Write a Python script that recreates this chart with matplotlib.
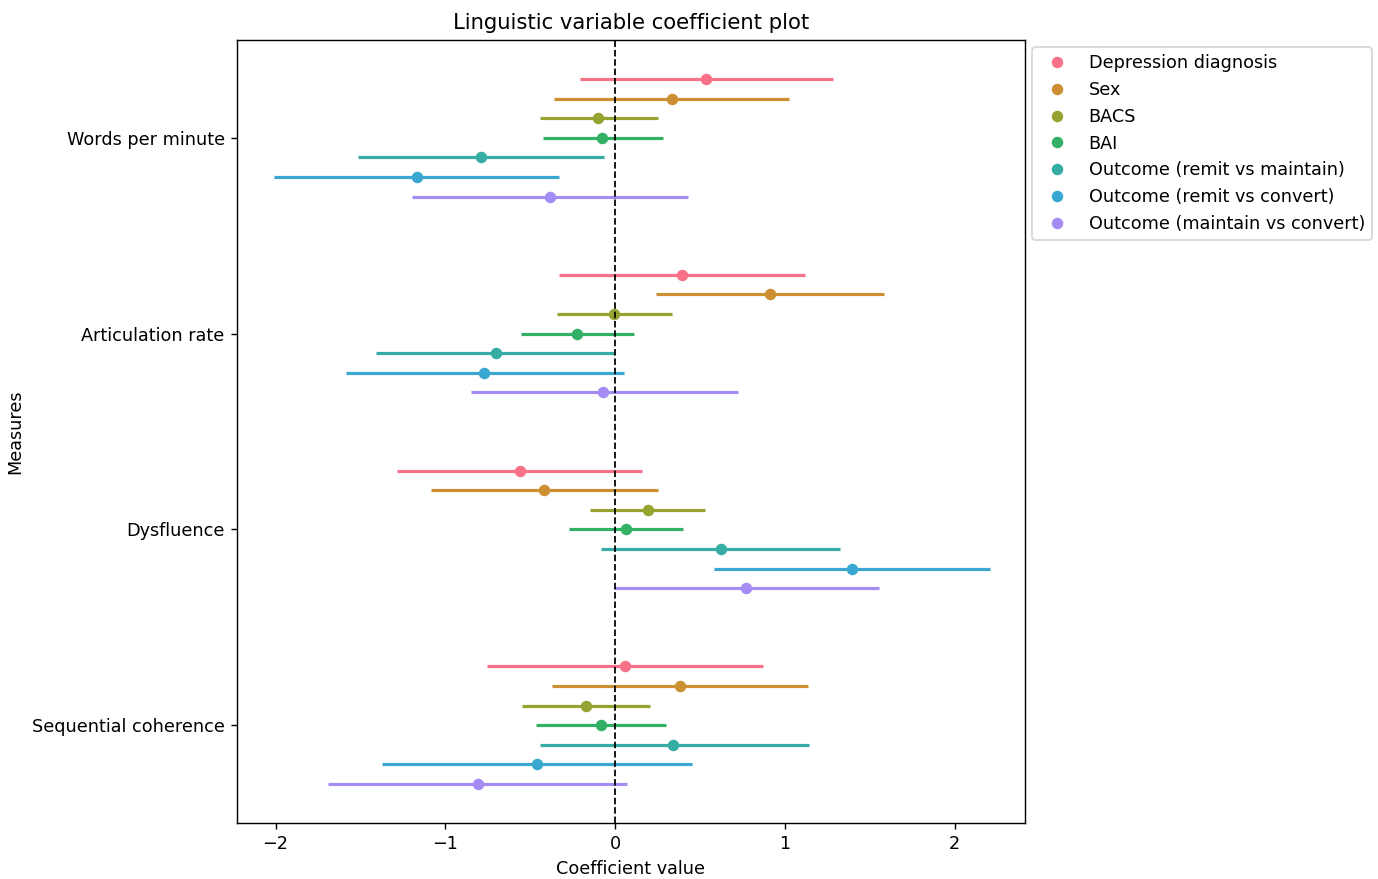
import numpy as np
import matplotlib
matplotlib.use("Agg")
import matplotlib.pyplot as plt
from matplotlib.lines import Line2D

measures = ["Words per minute", "Articulation rate", "Dysfluence", "Sequential coherence"]
predictors = ["Depression diagnosis", "Sex", "BACS", "BAI",
              "Outcome (remit vs maintain)", "Outcome (remit vs convert)",
              "Outcome (maintain vs convert)"]

# coefficient estimates, rows = measures, cols = predictors
coef = np.array([
    [0.538, 0.336, -0.099, -0.075, -0.787, -1.168, -0.381],
    [0.396, 0.913, -0.009, -0.225, -0.703, -0.772, -0.069],
    [-0.562, -0.420, 0.192, 0.066, 0.622, 1.393, 0.769],
    [0.060, 0.381, -0.171, -0.084, 0.342, -0.462, -0.808],
])
ci_low = np.array([
    [-0.207, -0.357, -0.444, -0.423, -1.517, -2.009, -1.195],
    [-0.333, 0.240, -0.342, -0.556, -1.411, -1.583, -0.850],
    [-1.282, -1.084, -0.147, -0.273, -0.081, 0.580, -0.009],
    [-0.754, -0.372, -0.550, -0.468, -0.444, -1.372, -1.691],
])
ci_high = np.array([
    [1.282, 1.024, 0.252, 0.282, -0.063, -0.333, 0.432],
    [1.120, 1.586, 0.336, 0.114, 0.000, 0.051, 0.727],
    [0.156, 0.252, 0.529, 0.402, 1.324, 2.207, 1.553],
    [0.874, 1.135, 0.204, 0.300, 1.144, 0.453, 0.072],
])

colors = ['#f77189', '#cc8f32', '#96a331', '#32b166', '#36ada4', '#39a7d0', '#a48cf4']

DPI = 127
fig = plt.figure(figsize=(1378 / DPI, 879 / DPI), dpi=DPI)
ax = fig.add_axes([237 / 1378, 1 - 823 / 879, (1025 - 237) / 1378, (823 - 40) / 879])

ypos = np.arange(len(measures))
offsets = np.linspace(-0.3, 0.3, len(predictors))
handles = []
for j, name in enumerate(predictors):
    y = ypos + offsets[j]
    ax.hlines(y, ci_low[:, j], ci_high[:, j], color=colors[j], lw=1.8)
    ax.plot(coef[:, j], y, 'o', color=colors[j], markersize=5.5)
    handles.append(Line2D([], [], marker='o', ls='none', color=colors[j],
                          markersize=5.5, label=name))

ax.axvline(0, color='black', ls='--', lw=1.0, zorder=3)

ax.set_yticks(ypos)
ax.set_yticklabels(measures)
ax.set_ylim(3.5, -0.5)
ax.set_xlim(-2.227, 2.415)
ax.set_xticks([-2, -1, 0, 1, 2])
ax.set_xlabel("Coefficient value")
ax.set_ylabel("Measures")
ax.set_title("Linguistic variable coefficient plot")
ax.legend(handles=handles, loc='upper left', bbox_to_anchor=(1.0, 1.0),
          borderaxespad=0.4)

fig.savefig("out.png", dpi=DPI)
